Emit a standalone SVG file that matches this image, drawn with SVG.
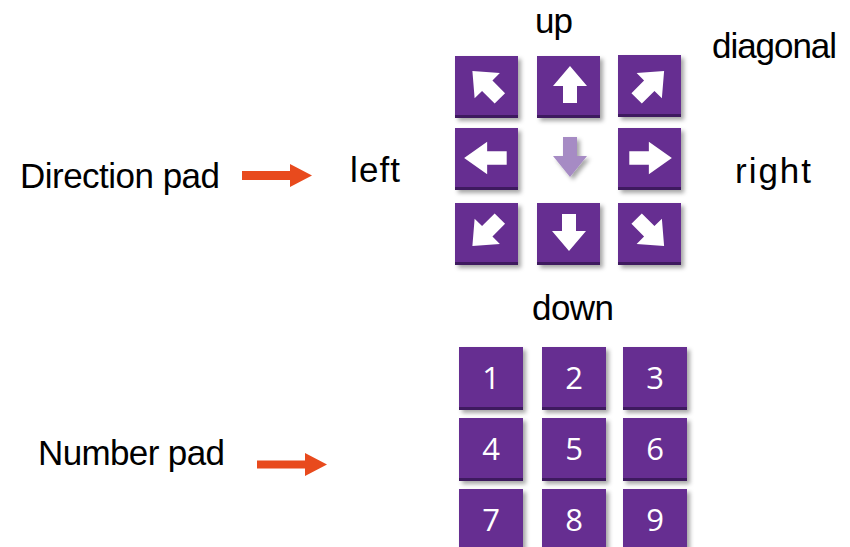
<svg xmlns="http://www.w3.org/2000/svg" width="850" height="547" viewBox="0 0 850 547">
<style>
.lbl{font-family:"Liberation Sans",Arial,sans-serif;font-size:35px;fill:#000}
.num{font-family:"Open Sans","Noto Sans",sans-serif;font-size:31px;fill:#fff;text-anchor:middle}
.tile{fill:#662d91}
.edge{fill:#3e1a5f}
.arr{fill:#fff}
.red{fill:#e84a1d}
</style>
<defs>
<filter id="sh" x="-20%" y="-20%" width="150%" height="150%">
<feDropShadow dx="3" dy="3" stdDeviation="2" flood-color="#000" flood-opacity="0.35"/>
</filter>
<g id="key">
<rect class="tile" x="0" y="0" width="63" height="62" filter="url(#sh)"/>
<rect class="edge" x="0" y="59" width="63" height="3"/>
</g>
<g id="nkey">
<rect class="tile" x="0" y="0" width="64" height="63" filter="url(#sh)"/>
<rect class="edge" x="0" y="60" width="64" height="3"/>
</g>
<polygon id="ar" points="0,-19 17,1 7,1 7,18 -7,18 -7,1 -17,1"/>
</defs>

<g id="labels">
<text class="lbl" x="20" y="188" textLength="200">Direction pad</text>
<text class="lbl" x="38" y="465" textLength="187">Number pad</text>
<text class="lbl" x="535" y="33" textLength="38">up</text>
<text class="lbl" x="712" y="58" textLength="125">diagonal</text>
<text class="lbl" x="350" y="182" textLength="50">left</text>
<text class="lbl" x="735" y="183" textLength="76">right</text>
<text class="lbl" x="532" y="320" textLength="82">down</text>
</g>

<g id="connectors">
<polygon class="red" points="242,171 290,171 290,164 312,175.5 290,187 290,180 242,180"/>
<polygon class="red" points="257,460.5 305,460.5 305,453 327,464.5 305,476 305,468.5 257,468.5"/>
</g>

<g id="dir-upleft"><use href="#key" x="455" y="56"/><use href="#ar" class="arr" transform="translate(486.5,85) rotate(-45) scale(1.05)"/></g>
<g id="dir-up"><use href="#key" x="537" y="56"/><use href="#ar" class="arr" transform="translate(570,85)"/></g>
<g id="dir-upright"><use href="#key" x="618" y="55"/><use href="#ar" class="arr" transform="translate(650,85) rotate(45) scale(1.05)"/></g>
<g id="dir-left"><use href="#key" x="455" y="128"/><use href="#ar" class="arr" transform="translate(486,158) rotate(-90) scale(0.95,1.15)"/></g>
<g id="dir-center"><polygon points="563,137 577,137 577,156 587,156 570,177 553,156 563,156" fill="#a68bc4" filter="url(#sh)"/></g>
<g id="dir-right"><use href="#key" x="618" y="128"/><use href="#ar" class="arr" transform="translate(650,158) rotate(90) scale(0.95,1.15)"/></g>
<g id="dir-downleft"><use href="#key" x="455" y="203"/><use href="#ar" class="arr" transform="translate(486.5,232) rotate(-135) scale(1.05)"/></g>
<g id="dir-down"><use href="#key" x="537" y="203"/><use href="#ar" class="arr" transform="translate(569,232) rotate(180)"/></g>
<g id="dir-downright"><use href="#key" x="618" y="203"/><use href="#ar" class="arr" transform="translate(650,232) rotate(135) scale(1.05)"/></g>

<g id="num-1"><use href="#nkey" x="459" y="347"/><text class="num" x="491" y="389">1</text></g>
<g id="num-2"><use href="#nkey" x="542" y="347"/><text class="num" x="574" y="389">2</text></g>
<g id="num-3"><use href="#nkey" x="623" y="347"/><text class="num" x="655" y="389">3</text></g>
<g id="num-4"><use href="#nkey" x="459" y="418"/><text class="num" x="491" y="460">4</text></g>
<g id="num-5"><use href="#nkey" x="542" y="418"/><text class="num" x="574" y="460">5</text></g>
<g id="num-6"><use href="#nkey" x="623" y="418"/><text class="num" x="655" y="460">6</text></g>
<g id="num-7"><use href="#nkey" x="459" y="489"/><text class="num" x="491" y="531">7</text></g>
<g id="num-8"><use href="#nkey" x="542" y="489"/><text class="num" x="574" y="531">8</text></g>
<g id="num-9"><use href="#nkey" x="623" y="489"/><text class="num" x="655" y="531">9</text></g>
</svg>
